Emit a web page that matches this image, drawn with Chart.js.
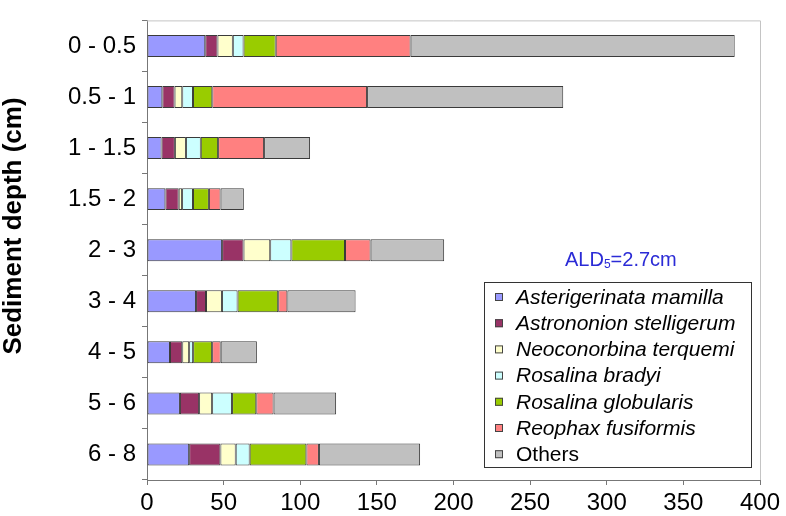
<!DOCTYPE html>
<html>
<head>
<meta charset="utf-8">
<script src="https://cdn.jsdelivr.net/npm/chart.js@4"></script>
<style>
  body { margin: 0; background: #fff; }
  canvas { display: block; }
</style>
</head>
<body>
<canvas id="chart" width="786" height="516"></canvas>
<script>
// depth intervals (top to bottom)
const depthLabels = ['0 - 0.5', '0.5 - 1', '1 - 1.5', '1.5 - 2', '2 - 3', '3 - 4', '4 - 5', '5 - 6', '6 - 8'];

// counts per taxon
const asterigerinata = [38, 10, 9.5, 12, 49, 32, 15, 21.5, 27.5];
const astrononion = [8, 8, 8.7, 8.7, 14, 6.5, 8, 12.5, 20.4];
const neoconorbina = [10, 5, 7.2, 2.2, 17.4, 10.4, 4.5, 8.5, 10];
const rosalinaBradyi = [7, 7, 9.7, 7.1, 13.8, 10.2, 2.6, 13, 9.1];
const rosalinaGlobularis = [21, 12.6, 11.3, 10.4, 35, 26.5, 12.4, 15.8, 37];
const reophax = [88, 101, 30, 7.6, 16.7, 6, 5.6, 11.3, 8.2];
const others = [211.5, 128, 30, 15.2, 48, 44.5, 23.6, 40.8, 66];

const seriesNames = ['Asterigerinata mamilla', 'Astrononion stelligerum', 'Neoconorbina terquemi',
    'Rosalina bradyi', 'Rosalina globularis', 'Reophax fusiformis', 'Others'];
const seriesColors = ['#9999FF', '#993366', '#FFFFCC', '#CCFFFF', '#99CC00', '#FF8080', '#C0C0C0'];
const seriesValues = [asterigerinata, astrononion, neoconorbina, rosalinaBradyi, rosalinaGlobularis, reophax, others];

const xTicks = [0, 50, 100, 150, 200, 250, 300, 350, 400];

const FONT = 'Arial, "Liberation Sans", sans-serif';

// frame, y title, ALD note and the boxed legend
const decorations = {
    id: 'decorations',
    beforeDatasetsDraw(chart) {
        const { ctx, chartArea: a } = chart;
        ctx.save();
        ctx.strokeStyle = '#c4c4c4';
        ctx.lineWidth = 1;
        ctx.beginPath();
        ctx.moveTo(a.left, a.top + 0.5);
        ctx.lineTo(a.right + 0.5, a.top + 0.5);
        ctx.lineTo(a.right + 0.5, a.bottom);
        ctx.stroke();
        ctx.restore();
    },
    afterDraw(chart) {
        const ctx = chart.ctx;
        ctx.save();

        // y axis title
        ctx.translate(14, 226);
        ctx.rotate(-Math.PI / 2);
        ctx.font = 'bold 26px ' + FONT;
        ctx.fillStyle = '#000';
        ctx.textAlign = 'center';
        ctx.textBaseline = 'middle';
        ctx.fillText('Sediment depth (cm)', 0, 0);
        ctx.setTransform(1, 0, 0, 1, 0, 0);

        // ALD5 note
        ctx.fillStyle = '#2b2bd6';
        ctx.textAlign = 'left';
        ctx.textBaseline = 'alphabetic';
        let x = 565;
        ctx.font = '20px ' + FONT;
        ctx.fillText('ALD', x, 266);
        x += ctx.measureText('ALD').width;
        ctx.font = '12px ' + FONT;
        ctx.fillText('5', x, 268);
        x += ctx.measureText('5').width;
        ctx.font = '20px ' + FONT;
        ctx.fillText('=2.7cm', x, 266);

        // legend box
        const bx = 484, by = 282, bw = 267, bh = 185;
        ctx.fillStyle = '#fff';
        ctx.fillRect(bx, by, bw, bh);
        ctx.strokeStyle = '#333';
        ctx.lineWidth = 1;
        ctx.strokeRect(bx + 0.5, by + 0.5, bw, bh);

        chart.data.datasets.forEach((ds, i) => {
            const cy = 297 + i * 26.2;
            ctx.fillStyle = ds.backgroundColor;
            ctx.fillRect(495, cy - 4, 8, 8);
            ctx.strokeStyle = '#444';
            ctx.strokeRect(495.5, cy - 3.5, 7, 7);
            ctx.fillStyle = '#000';
            ctx.textBaseline = 'middle';
            ctx.font = (i < chart.data.datasets.length - 1 ? 'italic ' : '') + '21px ' + FONT;
            ctx.fillText(ds.label, 516, cy + 1);
        });
        ctx.restore();
    }
};

new Chart(document.getElementById('chart'), {
    type: 'bar',
    data: {
        labels: depthLabels,
        datasets: seriesNames.map((name, i) => ({
            label: name,
            data: seriesValues[i],
            backgroundColor: seriesColors[i],
            borderColor: '#3a3a3a',
            borderWidth: 1,
            borderSkipped: false,
            categoryPercentage: 1,
            barPercentage: 0.43
        }))
    },
    options: {
        indexAxis: 'y',
        responsive: false,
        animation: false,
        layout: { padding: { top: 12, right: 26, bottom: 0, left: 0 } },
        plugins: {
            legend: { display: false },
            tooltip: { enabled: false }
        },
        scales: {
            x: {
                stacked: true,
                min: 0,
                max: 400,
                afterBuildTicks(scale) {
                    scale.ticks = xTicks.map(v => ({ value: v }));
                },
                afterFit(scale) { scale.height = 36; },
                ticks: {
                    color: '#000',
                    font: { family: FONT, size: 24 },
                    padding: 4,
                    maxRotation: 0
                },
                grid: { drawOnChartArea: false, tickLength: 5, color: '#777' },
                border: { color: '#777' }
            },
            y: {
                stacked: true,
                afterFit(scale) { scale.width = 147; },
                ticks: {
                    color: '#000',
                    font: { family: FONT, size: 24 },
                    padding: 6
                },
                grid: { drawOnChartArea: false, tickLength: 5, color: '#777' },
                border: { color: '#777' }
            }
        }
    },
    plugins: [decorations]
});
</script>
</body>
</html>
